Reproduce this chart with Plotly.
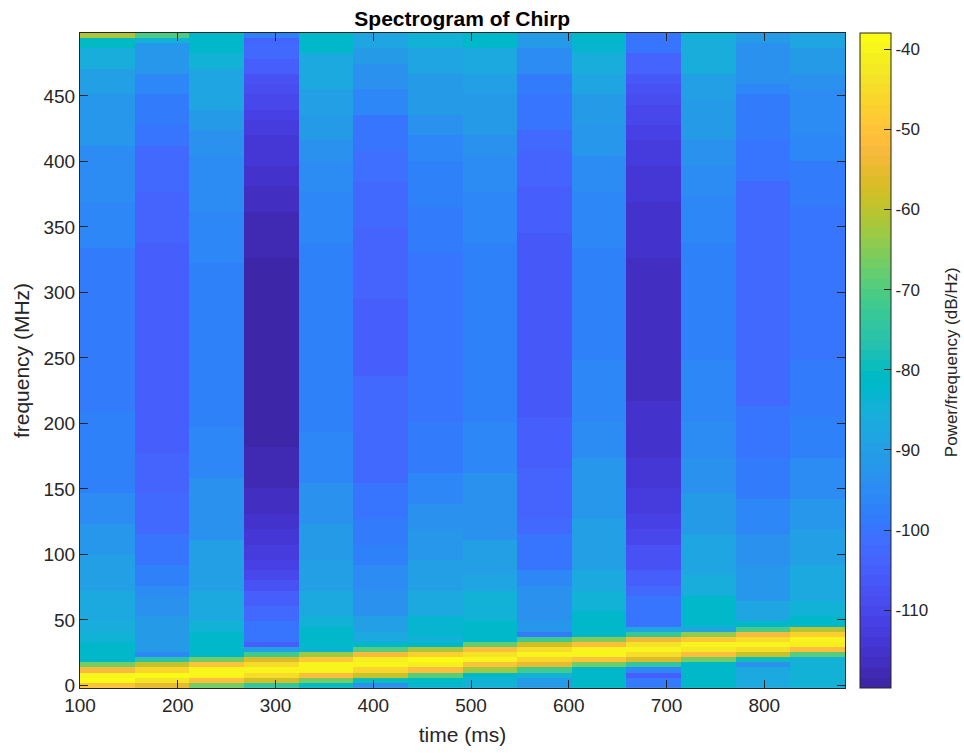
import plotly.graph_objects as go

TITLE = "Spectrogram of Chirp"
X_LABEL = "time (ms)"
Y_LABEL = "frequency (MHz)"
CB_LABEL = "Power/frequency (dB/Hz)"

TIME_MS = [127.95, 183.85, 239.75, 295.65, 351.55, 407.45, 463.35,
           519.25, 575.15, 631.05, 686.95, 742.85, 798.75, 854.65]
BIN_MHZ = 3.90625
N_ROWS = 128
X_TICKS = [100, 200, 300, 400, 500, 600, 700, 800]
Y_TICKS = [0, 50, 100, 150, 200, 250, 300, 350, 400, 450]
CB_TICKS = [-110, -100, -90, -80, -70, -60, -50, -40]
CB_TICK_TEXT = ["-110", "-100", "-90", "-80", "-70", "-60", "-50", "-40"]

# Each column, read bottom-up: (row where this level stops, level in dB/Hz)
COL_01 = [(1,-49.5),(2,-39),(3,-40),(4,-52.5),(5,-67),(9,-82),(11,-84),(13,-85.5),(19,-87),(26,-90),(32,-92),(38,-94.5),(54,-97),(86,-98.5),(95,-96.5),(106,-94.5),(116,-92),(121,-89.5),(125,-85.5),(127,-81),(128,-61)]
COL_02 = [(1,-55),(2,-44),(3,-39),(4,-46),(5,-59),(6,-76),(7,-96.5),(14,-91),(18,-93),(20,-94.5),(24,-97),(30,-100),(38,-102.5),(46,-104),(87,-105.5),(97,-104),(106,-102.5),(110,-100),(116,-98),(120,-96.5),(126,-92),(127,-85),(128,-70)]
COL_03 = [(1,-67),(2,-51),(3,-39.5),(4,-40),(5,-50.5),(6,-66.5),(11,-81.5),(13,-84),(19,-87),(29,-90),(41,-93),(51,-95.5),(64,-97),(83,-97.5),(93,-96),(104,-94.5),(109,-93),(113,-91.5),(121,-88.5),(124,-84.5),(128,-81.5)]
COL_04 = [(1,-75),(2,-58),(3,-45),(4,-40),(5,-45),(6,-56),(7,-72),(8,-90),(9,-105),(13,-100),(16,-102.5),(19,-105),(21,-107.5),(23,-109.5),(25,-111),(28,-112.5),(31,-114),(34,-115.5),(39,-116.5),(47,-118),(84,-119.3),(93,-118),(98,-116.5),(102,-115.5),(105,-114.5),(108,-113.5),(111,-112.5),(113,-111),(116,-110),(118,-108.5),(120,-107),(123,-105),(126,-102),(127,-104),(128,-97)]
COL_05 = [(1,-81),(2,-66.5),(3,-52),(4,-40.5),(5,-39.5),(6,-49),(7,-62.5),(8,-83),(12,-82),(14,-84.5),(19,-87),(25,-89.5),(32,-91.5),(40,-93),(50,-95.5),(87,-97.5),(97,-96),(103,-94.5),(107,-93),(112,-91.5),(117,-90),(124,-87.5),(128,-81.5)]
COL_06 = [(1,-94),(2,-80),(3,-59),(4,-46),(5,-39.5),(6,-41),(7,-53),(8,-69.5),(9,-82),(11,-87.5),(14,-89.5),(19,-93),(24,-94.5),(28,-97),(33,-98.5),(40,-100.5),(46,-102),(61,-103),(76,-104.5),(90,-103.5),(99,-102.5),(105,-101),(112,-99.5),(117,-96.5),(122,-93),(125,-91),(128,-89)]
COL_07 = [(1,-83),(2,-80.5),(3,-69),(4,-52),(5,-41.5),(6,-39),(7,-47.5),(8,-62),(9,-82),(10,-85),(14,-83.5),(19,-87.5),(25,-90),(31,-92),(36,-94),(42,-96),(52,-98),(85,-100),(94,-98.5),(103,-97),(108,-95.5),(112,-93.5),(120,-91),(125,-88),(128,-85)]
COL_08 = [(1,-85),(2,-84),(3,-82),(4,-62.5),(5,-50),(6,-40),(7,-44),(8,-52),(9,-67.5),(13,-81.5),(19,-85),(22,-88),(29,-90),(42,-93),(52,-95.5),(64,-97),(87,-97.5),(97,-96.5),(104,-94.5),(108,-93),(116,-91.5),(120,-89.5),(125,-87),(128,-82)]
COL_09 = [(2,-91),(3,-84),(4,-71.5),(5,-55),(6,-46),(7,-39.5),(8,-45),(9,-58),(10,-72),(11,-98),(13,-92.5),(20,-94),(23,-96),(30,-100),(33,-102),(43,-103.5),(53,-105),(89,-106.5),(98,-105),(105,-103.5),(109,-102),(116,-100),(120,-98),(125,-95),(128,-91.5)]
COL_10 = [(4,-81.5),(5,-66.5),(6,-50),(7,-40.5),(8,-40),(9,-51.5),(10,-65.5),(15,-81.5),(19,-84.5),(23,-87),(33,-89.5),(45,-92.5),(52,-95),(64,-96.5),(86,-97.5),(97,-96),(104,-94.5),(110,-92.5),(116,-91),(120,-89),(124,-86.5),(126,-83.5),(128,-81.5)]
COL_11 = [(2,-98),(3,-105.5),(4,-96),(5,-75),(6,-57),(7,-44.5),(8,-40),(9,-43.5),(10,-54.5),(11,-73),(12,-88),(18,-100.5),(20,-103),(23,-105),(28,-107.5),(31,-109.5),(34,-111),(39,-112.5),(45,-114),(56,-115.5),(84,-117),(95,-115.5),(102,-114),(107,-112.5),(110,-111),(114,-110),(116,-109),(118,-107.5),(120,-106),(124,-103.5),(128,-100.5)]
COL_12 = [(5,-81.5),(6,-67),(7,-51),(8,-42),(9,-39.5),(10,-49),(11,-64),(12,-88),(18,-81.5),(22,-85.5),(30,-88.5),(38,-90.5),(45,-93),(52,-94.5),(64,-96.5),(87,-97),(96,-96),(102,-94.5),(107,-93),(115,-91.5),(120,-89.5),(127,-86.5),(128,-85)]
COL_13 = [(4,-87),(5,-94),(6,-80),(7,-59.5),(8,-44.5),(9,-40),(10,-44.5),(11,-53),(12,-71),(13,-82),(17,-88),(24,-92),(30,-94),(37,-96.5),(45,-98.5),(55,-100.5),(64,-102),(90,-103),(99,-102),(107,-100.5),(116,-98.5),(118,-96.5),(126,-93.5),(128,-91.5)]
COL_14 = [(6,-84),(7,-69),(8,-52),(9,-41),(10,-39.5),(11,-47.5),(12,-60),(14,-82),(17,-85),(24,-87.5),(31,-90),(37,-92.5),(45,-94.5),(53,-97),(64,-99),(94,-100),(103,-98.5),(108,-96.5),(117,-95),(120,-93),(125,-91),(128,-88.5)]
COLUMNS = [COL_01, COL_02, COL_03, COL_04, COL_05, COL_06, COL_07,
           COL_08, COL_09, COL_10, COL_11, COL_12, COL_13, COL_14]

PARULA = [
 (.2422,.1504,.6603),(.2504,.1650,.7076),(.2578,.1818,.7511),(.2647,.1978,.7952),
 (.2706,.2147,.8364),(.2751,.2342,.8710),(.2783,.2559,.8991),(.2803,.2782,.9221),
 (.2813,.3006,.9414),(.2810,.3228,.9579),(.2795,.3447,.9717),(.2760,.3667,.9829),
 (.2699,.3892,.9906),(.2602,.4123,.9952),(.2440,.4358,.9988),(.2206,.4603,.9973),
 (.1963,.4847,.9892),(.1834,.5074,.9798),(.1786,.5289,.9682),(.1764,.5499,.9520),
 (.1687,.5703,.9359),(.1540,.5902,.9218),(.1460,.6091,.9079),(.1380,.6276,.8973),
 (.1248,.6459,.8883),(.1113,.6635,.8763),(.0952,.6798,.8598),(.0689,.6948,.8394),
 (.0297,.7082,.8163),(.0036,.7203,.7917),(.0067,.7312,.7660),(.0433,.7411,.7394),
 (.0964,.7500,.7120),(.1408,.7584,.6842),(.1717,.7670,.6554),(.1938,.7758,.6251),
 (.2161,.7843,.5923),(.2470,.7918,.5567),(.2906,.7973,.5188),(.3406,.8008,.4789),
 (.3909,.8029,.4354),(.4456,.8024,.3909),(.5044,.7993,.3480),(.5616,.7942,.3045),
 (.6174,.7876,.2612),(.6720,.7793,.2227),(.7242,.7698,.1910),(.7738,.7598,.1646),
 (.8203,.7498,.1535),(.8634,.7406,.1596),(.9035,.7330,.1774),(.9393,.7288,.2100),
 (.9728,.7298,.2394),(.9956,.7434,.2371),(.9970,.7659,.2199),(.9952,.7893,.2028),
 (.9892,.8136,.1885),(.9786,.8386,.1766),(.9676,.8639,.1643),(.9610,.8890,.1537),
 (.9597,.9135,.1423),(.9628,.9373,.1265),(.9691,.9606,.1064),(.9769,.9839,.0805)]

colorscale = []
for k, (r, g, b) in enumerate(PARULA):
    c = f"rgb({round(r*255)},{round(g*255)},{round(b*255)})"
    colorscale += [[k / 64, c], [(k + 1) / 64, c]]


def expand(bands):
    out, row = [], 0
    for stop, level in bands:
        out += [level] * (stop - row)
        row = stop
    return out


cols = [expand(c) for c in COLUMNS]
z = [[cols[j][i] for j in range(len(cols))] for i in range(N_ROWS)]
freq = [i * BIN_MHZ for i in range(N_ROWS)]

FONT = "Liberation Sans, Arial, sans-serif"
INK = "#262626"

L, R, T, B = 79.5, 845, 33, 688.5
W, H = 964, 753

fig = go.Figure(go.Heatmap(
    x=TIME_MS, y=freq, z=z, zmin=-119.7, zmax=-38,
    colorscale=colorscale, zsmooth=False,
    colorbar=dict(
        x=(860 - L) / (R - L), xanchor="left", xref="paper",
        y=0, yanchor="bottom", len=1, lenmode="fraction",
        thickness=31, thicknessmode="pixels", xpad=0, ypad=0,
        outlinecolor=INK, outlinewidth=1, borderwidth=0,
        tickmode="array", tickvals=CB_TICKS, ticktext=CB_TICK_TEXT,
        ticks="inside", ticklen=7, tickwidth=1, tickcolor=INK,
        tickfont=dict(family=FONT, size=17, color=INK),
    ),
))

axis = dict(showgrid=False, zeroline=False, showline=True, linecolor=INK, linewidth=1,
            mirror="ticks", ticks="inside", ticklen=8, tickwidth=1, tickcolor=INK,
            tickfont=dict(family=FONT, size=19, color=INK))

fig.update_layout(
    width=W, height=H, autosize=False,
    margin=dict(l=L, r=W - R, t=T, b=H - B, pad=0),
    paper_bgcolor="white", plot_bgcolor="white",
    title=dict(text=f"<b>{TITLE}</b>", x=(L + R) / 2 / W, xanchor="center",
               y=1 - 19 / H, yanchor="middle", yref="container",
               font=dict(family=FONT, size=21, color="black")),
    xaxis=dict(axis, range=[100, 882.6], tickvals=X_TICKS,
               title=dict(text=X_LABEL, standoff=12,
                          font=dict(family=FONT, size=21, color=INK))),
    yaxis=dict(axis, range=[-1.95, 498], tickvals=Y_TICKS,
               title=dict(text=Y_LABEL, standoff=8,
                          font=dict(family=FONT, size=21, color=INK))),
    annotations=[dict(text=CB_LABEL, textangle=-90, showarrow=False,
                      xref="paper", yref="paper",
                      x=(951.5 - L) / (R - L), xanchor="center",
                      y=(B - 362) / (B - T), yanchor="middle",
                      font=dict(family=FONT, size=17, color=INK))],
)

fig.write_html("out.html", config={"displayModeBar": False},
               post_script="document.body.style.margin='0';")
